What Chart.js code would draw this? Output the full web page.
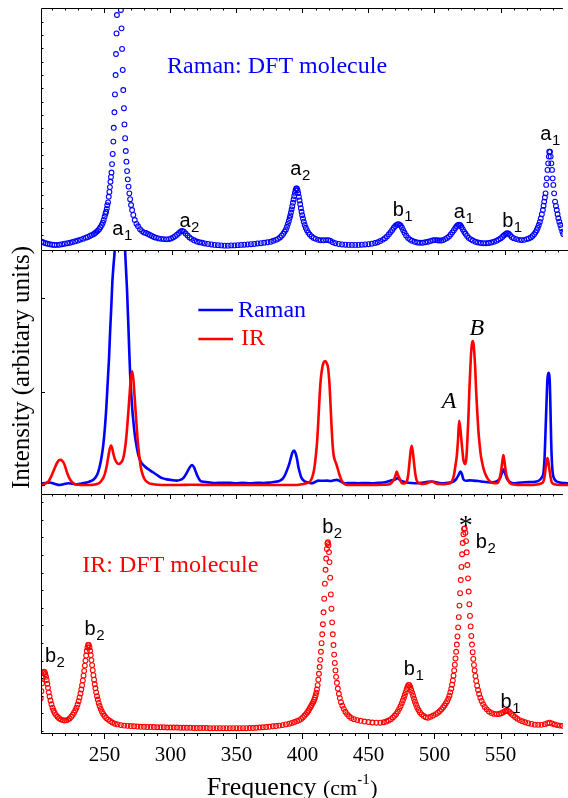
<!DOCTYPE html>
<html>
<head>
<meta charset="utf-8">
<title>Raman / IR spectra</title>
<script src="https://cdn.jsdelivr.net/npm/chart.js@4.4.1/dist/chart.umd.min.js"></script>
<style>
  html, body { margin: 0; padding: 0; background: #fff; }
  #wrap { position: relative; width: 568px; height: 798px; overflow: hidden; }
  #wrap canvas { position: absolute; left: 0; top: 0; }
</style>
</head>
<body>
<div id="wrap">
  <canvas id="topPanel" width="568" height="798"></canvas>
  <canvas id="midPanel" width="568" height="798"></canvas>
  <canvas id="botPanel" width="568" height="798"></canvas>
</div>
<script>
// ---- data: [frequency (cm-1), intensity (0..100 of panel height)] ----
const X_MIN = 202.0, X_MAX = 597.25;
const xTickLabels = [250, 300, 350, 400, 450, 500, 550];

// top panel: Raman, DFT molecule (open circles)
const ramanDft = [
  [202.5,3.4],[204,3.1],[205.5,2.8],[207,2.6],[208.7,2.4],[210.5,2.2],[212.2,2.1],[214,2.1],[216,2.2],[218,2.4],
  [220,2.6],[222,2.8],[224,3.0],[226,3.3],[228,3.6],[230,3.9],[232,4.3],[234,4.7],[236,5.1],[237.5,5.4],
  [239,5.8],[240.5,6.2],[242,6.6],[243,7.0],[244,7.5],[245,8.0],[246,8.6],[247,9.4],[248,10.3],[248.8,11.3],
  [249.5,12.4],[250.2,13.8],[250.8,15.0],[251.3,15.8],[251.8,17.0],[252.2,18.5],[252.8,19.7],[253.3,22.0],[253.8,24.0],[254.2,26.0],
  [254.6,28.2],[255.0,30.2],[255.4,32.0],[255.8,35.5],[256.3,39.7],[256.8,44.8],[257.1,50.5],[257.6,56.9],[258.0,64.3],[258.5,72.3],
  [258.8,81.0],[259.2,89.5],[259.5,97.1],
  [262.5,99.2],[263.0,91.6],[263.4,83.1],[263.9,74.4],[264.3,66.1],[264.8,58.6],[265.2,51.9],[265.7,46.2],[266.2,40.9],[266.7,36.5],
  [267.2,32.6],[267.7,29.2],[268.3,26.2],[268.9,23.4],[269.5,21.0],[270.2,18.6],[271.0,16.5],[271.9,14.5],[273.0,12.4],[274.3,10.8],
  [275.5,9.8],[277,8.6],[278.5,7.8],[280,7.2],[281.5,7.0],[283,6.6],[284.5,6.2],[286,5.8],[287.5,5.4],[289,5.1],
  [291,4.8],[293,4.6],[295,4.5],[297,4.4],[299,4.5],[300.5,4.8],[302,5.2],[303.5,5.7],[305,6.3],[306.5,7.0],
  [307.8,7.7],[309,7.9],[310.2,7.6],[311.5,6.8],[313,6.0],[314.5,5.2],[316,4.6],[318,4.0],[320,3.5],[322,3.2],
  [324,3.0],[326,2.7],[328.5,2.5],[331,2.3],[333.5,2.1],[336,2.0],[338.5,1.9],[341,1.8],[343.5,1.8],[346,1.9],
  [348.5,1.9],[351,2.0],[353.5,2.1],[356,2.2],[358.5,2.3],[361,2.4],[363.5,2.5],[366,2.7],[368.5,2.8],[371,3.0],
  [373.5,3.2],[376,3.4],[378,3.8],[380,4.2],[381.5,4.6],[383,5.2],[384.3,5.9],[385.5,6.7],[386.5,7.6],[387.5,8.5],
  [388.3,9.6],[389,10.8],[389.7,12.0],[390.3,13.2],[390.8,14.3],[391.3,15.5],[391.8,16.8],[392.3,18.1],[392.8,19.5],[393.3,20.9],
  [393.8,22.3],[394.3,23.6],[394.8,24.7],[395.3,25.4],[395.8,25.4],[396.3,24.7],[396.8,23.5],[397.3,22.0],[397.8,20.5],[398.3,18.9],
  [398.8,17.3],[399.3,15.8],[399.8,14.4],[400.4,13.0],[401.0,11.7],[401.7,10.4],[402.5,9.2],[403.4,8.2],[404.4,7.2],[405.5,6.4],
  [407,5.6],[408.5,5.0],[410,4.6],[412,4.2],[414,4.0],[416,4.0],[418,4.1],[419.5,4.1],[421,3.8],[423,3.2],
  [425,2.8],[427.5,2.5],[430,2.3],[432.5,2.2],[435,2.1],[437.5,2.1],[440,2.1],[442.5,2.1],[445,2.2],[447.5,2.3],
  [450,2.4],[452.5,2.6],[455,2.9],[457,3.2],[459,3.7],[461,4.3],[462.5,4.9],[464,5.6],[465.5,6.5],[466.8,7.4],
  [468,8.3],[469.2,9.2],[470.3,9.9],[471.3,10.4],[472.3,10.7],[473.3,10.6],[474.3,10.1],[475.3,9.3],[476.3,8.2],[477.3,7.1],
  [478.5,6.0],[480,5.0],[481.5,4.3],[483,3.8],[485,3.4],[487,3.1],[489,3.0],[491,3.0],[493,3.2],[495,3.4],
  [497,3.7],[499,4.0],[500.5,4.1],[502,4.0],[503.5,3.9],[505,3.9],[506.5,4.1],[508,4.5],[509.5,5.0],[511,5.6],
  [512.3,6.4],[513.5,7.3],[514.7,8.2],[515.8,9.1],[516.8,9.8],[517.8,10.3],[518.7,10.5],[519.6,10.2],[520.5,9.5],[521.5,8.5],
  [522.5,7.5],[523.5,6.7],[524.7,5.8],[526,5.0],[527.5,4.4],[529,3.9],[531,3.4],[533,3.1],[535,2.9],[537,2.8],
  [539,2.8],[541,2.9],[543,3.1],[545,3.4],[547,3.8],[548.5,4.3],[550,4.8],[551.3,5.4],[552.5,6.0],[553.7,6.5],
  [554.8,6.9],[556,6.8],[557.2,6.2],[558.5,5.4],[560,4.9],[562,4.5],[564,4.2],[566,4.1],[568,4.2],[570,4.5],
  [571.5,4.8],[573,5.2],[574.3,5.8],[575.5,6.5],[576.5,7.3],[577.4,8.2],[578.2,9.2],[579,10.3],[579.8,11.6],[580.5,13.0],
  [581.3,14.8],[582.1,16.5],[582.6,18.3],[583.1,20.0],[583.6,21.7],[584.1,23.4],[584.6,26.9],[585.1,29.6],[585.6,33.1],[586.1,35.8],
  [586.6,38.6],[586.9,40.6],[587.5,40.6],[588.0,38.6],[588.5,35.8],[589.0,33.1],[589.5,29.6],[590.0,26.9],[590.6,23.4],[591.3,20.0],
  [592.0,18.2],[592.6,16.5],[593.2,14.8],[593.8,13.1],[594.5,11.7],[595.3,10.3],[596.0,9.0],[596.8,7.6],[597.5,6.6]
];

// middle panel: measured Raman (blue line)
const ramanExp = [
  [202.4,4.3],[205,4.5],[208.7,4.7],[212,4.2],[216.2,3.7],[219,4.0],[222.5,4.4],[225.5,4.2],[228.8,4.0],[232.5,4.3],
  [236.3,4.7],[239,5.2],[241.2,5.8],[243.2,7.0],[245,9.2],[246.3,12.0],[247.5,15.4],[248.8,20.5],[250,27.7],[251,35.5],
  [252,45.6],[253,55.5],[253.8,66.1],[254.7,76.5],[255.5,86.7],[256.5,94.5],[257.3,100.4],[258.5,125],[260.5,175],[262.5,150],
  [264,115],[265,100.4],[266.5,84],[267.8,64.7],[268.8,49.7],[270.3,35.9],[271.5,28.5],[272.5,23.6],[273.8,19.3],[275,16],
  [276.2,14.0],[277.5,12.6],[279.5,11.5],[281.3,10.6],[284,9.6],[286.3,8.8],[289,7.8],[291.3,6.9],[293.5,6.4],[296.3,6.0],
  [300,5.7],[303.8,5.5],[306.5,5.8],[308.7,6.5],[310.8,8.2],[312.5,9.9],[314,11.3],[315.3,11.9],[316.7,11.0],[318,9.2],
  [319.5,7.2],[321.3,5.5],[324,5.0],[328.8,4.7],[333,4.5],[338,4.6],[343.8,4.6],[348,4.4],[353,4.6],[358.8,4.4],
  [364,4.6],[369,4.5],[373.8,4.7],[378,5.0],[381.3,5.5],[383.3,6.3],[385,7.8],[386.8,10.2],[388.3,12.6],[389.5,15.0],
  [390.5,16.9],[391.8,17.8],[393,16.6],[394.2,13.8],[395,11.2],[396,9.0],[397,7.1],[398.5,5.8],[400,5.1],[402.5,4.7],
  [405,4.4],[407.5,4.9],[410,5.5],[413,5.4],[416.3,5.5],[419,5.3],[421.5,5.6],[423.8,5.8],[426.5,5.2],[430,4.4],
  [435,4.5],[440,4.4],[445,4.5],[450,4.4],[455,4.6],[458.8,4.7],[462,5.1],[465,5.6],[467.5,5.9],[469.5,6.5],
  [471.5,5.6],[473.5,5.1],[476.3,4.7],[480,4.5],[483.8,4.4],[487,4.6],[491,4.9],[495.1,5.1],[499,4.7],[503.8,4.4],
  [507.5,4.6],[511.3,5.1],[513.5,6.2],[515.2,7.8],[516.5,9.2],[517.8,8.0],[518.8,6.0],[521,5.4],[523.5,5.6],[526.3,5.5],
  [530,5.3],[534,5.0],[538.8,4.7],[542.5,4.9],[545,5.6],[546.3,6.5],[547.7,8.6],[548.8,10.1],[550,8.6],[551.3,6.5],
  [553,5.2],[556.3,4.4],[560,4.6],[565,4.8],[570,4.9],[573.8,5.1],[576.5,6.0],[578,7.2],[578.8,8.5],[579.7,15],
  [580.6,29.1],[581.3,40],[581.8,46.9],[582.6,49.7],[583.6,45.6],[584.1,35],[584.6,22.2],[585.2,13],[585.8,8.5],[587,6.2],
  [588.8,5.1],[592,4.6],[595,4.5],[597.3,4.4]
];

// middle panel: measured IR (red line)
const irExp = [
  [202.4,3.5],[204,4.0],[207.5,5.1],[209.5,7.0],[211.2,9.2],[212.8,11.3],[214.2,12.9],[215.5,13.8],[216.8,14.0],[218,13.5],
  [219.2,12.6],[220.5,10.6],[221.7,8.5],[223,6.8],[224.3,5.5],[226,4.5],[227.5,4.0],[230,3.8],[234,3.7],[238.7,3.7],
  [242.5,3.9],[244.5,4.2],[246.2,4.7],[248,6.0],[249.2,7.2],[250,8.5],[251.3,11.5],[252.5,15.4],[253.5,18.3],[254.5,19.9],
  [255.4,18.8],[256.2,16.7],[257.3,14.5],[258.3,13.3],[259.4,12.5],[260.5,12.3],[261.8,12.8],[263.3,14.0],[264.5,16.8],[265.8,22.2],
  [266.8,28.5],[267.8,35.9],[268.6,42],[269.3,46.9],[270.3,50.3],[271.3,46.9],[272,41.5],[272.7,35.9],[273.6,28.8],[274.5,22.2],
  [275.6,16.2],[276.8,11.2],[278.3,7.8],[280,5.8],[282.5,4.6],[286.3,4.0],[290,3.8],[295,3.7],[305,3.7],[315,3.8],
  [330,3.7],[343.8,3.7],[360,3.7],[375,3.7],[393.8,3.7],[398,4.0],[401,4.4],[403.8,5.1],[405.5,7.0],[406.8,9.9],
  [407.8,14.0],[408.8,19.5],[409.6,26],[410.3,33.2],[411,40.5],[411.8,46.9],[412.6,50.5],[413.5,53.1],[414.5,54.3],[415.5,54.4],
  [416.4,53.5],[417.3,51.7],[418,47.8],[418.6,42.8],[419.2,36],[419.8,29.1],[420.5,22.0],[421.3,16.7],[422.3,14.0],[423.3,12.6],
  [424.4,10.6],[425.5,8.5],[426.8,6.4],[428.3,4.7],[430,4.0],[432.5,3.7],[440,3.7],[450,3.7],[458,3.8],[462,3.9],
  [463.8,4.1],[465.5,5.0],[466.8,6.0],[468,7.8],[468.8,9.2],[469.6,8.0],[470.8,6.5],[472.6,4.4],[474.5,4.3],[476.3,5.1],
  [477.3,7.5],[478.3,12.6],[479.2,17.5],[480,19.8],[480.8,17.5],[481.8,12.6],[482.8,8.0],[483.8,5.5],[486,4.4],[488.8,4.1],
  [491.5,4.4],[493.5,4.9],[495.1,5.1],[497,4.7],[499,4.2],[501.3,4.1],[504,4.0],[506.5,4.2],[508.8,4.4],[510.5,5.5],
  [511.8,8.0],[512.8,11.5],[513.8,15.4],[514.8,22.5],[515.6,30.0],[516.5,26.8],[517.3,22.2],[518.1,17.5],[518.8,14.0],[520,12.3],
  [521,14.5],[521.8,22.2],[522.6,32.0],[523.3,42.8],[524,51.5],[524.6,57.9],[525.2,61.5],[525.8,62.7],[526.4,61.5],[527,57.9],
  [527.7,51.0],[528.3,42.8],[529.1,34.5],[530,26.3],[531,20.0],[532,15.4],[533.5,11.3],[535,8.5],[537,6.3],[538.8,5.1],
  [541,4.5],[543.8,4.4],[545.5,5.5],[546.8,8.5],[547.9,12.8],[548.8,16.0],[549.8,12.5],[550.8,8.5],[552.3,5.8],[553.8,4.4],
  [557,3.9],[562,3.7],[568.8,3.7],[574,3.9],[577,4.3],[578.8,5.1],[579.8,7.5],[580.6,11.2],[581.3,13.5],[581.8,14.7],
  [582.5,13.2],[583.3,10.1],[584.2,7.0],[585.1,4.7],[587,4.0],[591.3,3.7],[597.5,3.7]
];

// bottom panel: IR, DFT molecule (open circles)
const irDft = [
  [201.8,14.5],[202.3,17.5],[202.8,20.8],[203.3,23.2],[203.8,25.0],[204.3,25.7],[204.8,25.4],[205.3,24.6],[205.8,23.5],[206.3,22.2],
  [206.8,20.6],[207.3,18.9],[207.9,17.0],[208.5,15.3],[209.2,13.6],[209.9,12.0],[210.7,10.6],[211.5,9.4],[212.4,8.4],[213.4,7.5],
  [214.5,6.8],[215.7,6.2],[217,5.7],[218.4,5.4],[219.8,5.2],[221.2,5.3],[222.5,5.6],[223.7,6.1],[224.9,6.8],[226,7.6],
  [227,8.5],[228,9.5],[228.9,10.6],[229.7,11.9],[230.5,13.3],[231.2,14.9],[231.9,16.5],[232.5,18.2],[233.1,20.0],[233.7,22.0],
  [234.2,24.0],[234.7,26.0],[235.2,28.2],[235.7,30.3],[236.2,32.4],[236.7,34.3],[237.2,35.8],[237.7,36.8],[238.2,36.8],[238.7,35.9],
  [239.2,34.4],[239.7,32.6],[240.2,30.5],[240.7,28.4],[241.2,26.3],[241.7,24.2],[242.2,22.3],[242.7,20.4],[243.2,18.7],[243.8,17.0],
  [244.4,15.4],[245.0,14.0],[245.7,12.6],[246.4,11.3],[247.2,10.1],[248.1,9.0],[249.1,8.0],[250.2,7.1],[251.4,6.3],[252.8,5.6],
  [254.3,5.0],[256,4.4],[258,3.9],[260,3.6],[262.5,3.3],[265,3.1],[267.5,3.0],[270,2.9],[272.5,2.8],[275,2.7],
  [277.5,2.6],[280,2.6],[282.5,2.5],[285,2.5],[287.5,2.5],[290,2.4],[292.5,2.4],[295,2.4],[297.5,2.3],[300,2.3],
  [302.5,2.3],[305,2.3],[307.5,2.2],[310,2.2],[312.5,2.2],[315,2.2],[317.5,2.1],[320,2.1],[322.5,2.1],[325,2.1],
  [327.5,2.1],[330,2.0],[332.5,2.0],[335,2.0],[337.5,2.0],[340,2.0],[342.5,2.0],[345,2.0],[347.5,2.0],[350,2.0],
  [352.5,2.0],[355,2.0],[357.5,2.0],[360,2.1],[362.5,2.1],[365,2.2],[367.5,2.3],[370,2.4],[372.5,2.5],[375,2.6],
  [377.5,2.8],[380,2.9],[382.5,3.1],[385,3.3],[387.5,3.6],[390,3.9],[392,4.2],[394,4.6],[396,5.0],[397.6,5.4],
  [399,5.9],[400.3,6.5],[401.5,7.2],[402.6,7.9],[403.6,8.6],[404.5,9.3],[405.3,10.1],[406.1,10.9],[406.9,11.6],[407.6,12.4],
  [408.3,13.1],[408.9,13.9],[409.5,14.8],[410.0,15.8],[410.5,16.9],[411.0,18.2],[411.5,20.0],[412.0,22.3],[412.5,24.8],[413.0,27.6],
  [413.5,30.6],[414.0,34.0],[414.5,37.6],[415.0,41.3],[415.5,45.5],[416.0,50.5],[416.5,56.2],[417.0,62.5],[417.5,68.3],[418.0,73.0],
  [418.5,77.0],[418.9,79.3],[419.3,79.8],[419.7,78.6],[420.1,75.7],[420.5,71.5],[421.0,65.0],[421.5,58.0],[422.0,52.0],[422.5,46.3],
  [423.0,41.3],[423.5,36.8],[424.0,32.8],[424.5,29.3],[425.0,26.2],[425.5,23.5],[426.1,21.0],[426.8,18.6],[427.6,16.4],[428.3,14.6],
  [429.2,12.9],[430.2,11.4],[431.3,10.1],[432.5,8.9],[433.8,7.9],[435.3,7.0],[437,6.3],[439,5.8],[441.5,5.4],[444,5.1],
  [447,4.8],[450,4.6],[453,4.4],[456,4.3],[459,4.3],[461.5,4.5],[463.5,4.8],[465.3,5.2],[467,5.8],[468.5,6.5],
  [469.8,7.2],[471,8.0],[472.2,9.0],[473.3,10.1],[474.3,11.2],[475.2,12.4],[476,13.6],[476.8,14.8],[477.5,15.9],[478.2,17.1],
  [478.9,18.3],[479.6,19.4],[480.3,20.1],[481,20.0],[481.7,19.2],[482.4,18.0],[483.1,16.8],[483.8,15.6],[484.5,14.3],[485.2,13.1],
  [486,11.9],[486.9,10.7],[487.9,9.6],[489,8.6],[490.3,7.8],[491.8,7.1],[493.4,6.6],[495,6.4],[497,6.8],[499,7.3],
  [501,7.9],[502.6,8.5],[504,9.2],[505.3,9.9],[506.5,10.7],[507.6,11.5],[508.6,12.4],[509.6,13.3],[510.5,14.4],[511.3,15.6],
  [512.0,17.0],[512.7,18.5],[513.3,20.2],[513.9,22.0],[514.4,24.0],[514.9,26.2],[515.4,28.6],[515.9,31.2],[516.4,34.0],[516.9,37.0],
  [517.4,40.4],[517.9,44.2],[518.4,48.5],[518.9,53.3],[519.4,58.5],[519.9,64.0],[520.4,69.5],[520.9,74.8],[521.4,79.5],[521.9,83.2],
  [522.4,85.4],[522.9,85.6],[523.4,83.8],[523.9,80.3],[524.4,75.6],[524.9,70.3],[525.4,64.7],[525.9,59.2],[526.4,53.9],[526.9,49.0],
  [527.4,44.6],[527.9,40.6],[528.4,37.0],[528.9,33.8],[529.4,31.0],[529.9,28.5],[530.4,26.2],[531.0,23.9],[531.6,21.8],[532.3,19.8],
  [533.0,18.0],[533.8,16.3],[534.7,14.8],[535.7,13.4],[536.8,12.1],[538.1,10.9],[539.6,9.9],[541.3,9.0],[543.2,8.4],[545.2,8.0],
  [547.2,7.9],[549,8.0],[550.6,8.3],[552,8.7],[553.3,9.1],[554.5,9.3],[555.7,9.2],[556.9,8.8],[558.1,8.1],[559.5,7.4],
  [561,6.7],[562.7,6.0],[564.5,5.4],[566.5,4.9],[568.7,4.5],[571,4.1],[573.5,3.8],[576,3.5],[578.5,3.4],[581,3.4],
  [583.5,3.7],[585.5,4.1],[587.2,4.3],[589,4.0],[591,3.6],[593,3.3],[595,3.1],[597,3.0]
];

const BLUE = '#0000ff';
const RED = '#ff0000';
const SERIF = '"Liberation Serif", "Times New Roman", serif';
const SANS = '"Liberation Sans", Arial, sans-serif';
const MODE_FONT = '20px ' + SANS;
const SUB_FONT = '15px ' + SANS;

const toXY = pairs => pairs.map(p => ({ x: p[0], y: p[1] }));

// ==================== DECORATION PLUGIN ====================
// frame, inward tick marks, annotations
function panelDecor(cfg) {
    return {
        id: 'panelDecor',
        afterDraw(chart) {
            const { ctx, chartArea: a, scales: { x, y } } = chart;
            ctx.save();
            ctx.strokeStyle = '#000';
            ctx.lineWidth = 1;
            ctx.beginPath();
            ctx.moveTo(a.left + 0.5, a.bottom);
            ctx.lineTo(a.left + 0.5, a.top + 0.5);
            ctx.lineTo(a.right, a.top + 0.5);
            if (cfg.bottomAxis) {
                ctx.moveTo(a.left, a.bottom + 0.5);
                ctx.lineTo(a.right, a.bottom + 0.5);
            }
            for (let f = 210; f <= 590; f += 10) {
                const px = Math.round(x.getPixelForValue(f)) + 0.5;
                const major = f % 50 === 0;
                ctx.moveTo(px, a.top);
                ctx.lineTo(px, a.top + (major ? 5 : 2.5));
                if (cfg.bottomAxis) {
                    ctx.moveTo(px, a.bottom);
                    ctx.lineTo(px, a.bottom + (major ? 6 : 3));
                }
            }
            for (let v = cfg.yTickStart; v < 99; v += cfg.yTickStep) {
                const py = Math.round(y.getPixelForValue(v)) + 0.5;
                ctx.moveTo(a.left, py);
                ctx.lineTo(a.left + cfg.yTickLen, py);
            }
            ctx.stroke();

            // legend lines
            (cfg.legend || []).forEach(l => {
                const py = y.getPixelForValue(l.v);
                ctx.strokeStyle = l.color;
                ctx.lineWidth = 2.6;
                ctx.beginPath();
                ctx.moveTo(x.getPixelForValue(l.f1), py);
                ctx.lineTo(x.getPixelForValue(l.f2), py);
                ctx.stroke();
            });

            // text notes
            ctx.textAlign = 'left';
            ctx.textBaseline = 'alphabetic';
            (cfg.notes || []).forEach(n => {
                const px = x.getPixelForValue(n.f);
                const py = y.getPixelForValue(n.v);
                ctx.font = n.font || MODE_FONT;
                ctx.fillStyle = n.color || '#000';
                ctx.fillText(n.t, px, py);
                if (n.sub) {
                    const w = ctx.measureText(n.t).width;
                    ctx.font = SUB_FONT;
                    ctx.fillText(n.sub, px + w + 0.5, py + 5);
                }
            });

            if (cfg.extra) cfg.extra(ctx, chart);
            ctx.restore();
        }
    };
}

function makePanel(id, padTop, padBottom, datasets, decor, showX) {
    return new Chart(document.getElementById(id), {
        type: 'scatter',
        data: { datasets: datasets },
        options: {
            responsive: false,
            animation: false,
            events: [],
            layout: { padding: { top: padTop, bottom: padBottom, left: 41, right: 0 } },
            plugins: { legend: { display: false }, tooltip: { enabled: false } },
            scales: {
                x: {
                    type: 'linear',
                    min: X_MIN,
                    max: X_MAX,
                    display: showX,
                    position: 'bottom',
                    grid: { display: false, drawTicks: false },
                    border: { display: false },
                    ticks: {
                        color: '#000',
                        font: { family: SERIF, size: 21 },
                        padding: 10,
                        maxRotation: 0,
                        autoSkip: false
                    },
                    afterBuildTicks: s => { s.ticks = xTickLabels.map(v => ({ value: v })); },
                    afterFit: s => { if (showX) s.height = 65; }
                },
                y: { min: 0, max: 100, display: false }
            }
        },
        plugins: [panelDecor(decor)]
    });
}

function circles(data, color) {
    return {
        data: toXY(data),
        showLine: false,
        pointStyle: 'circle',
        pointRadius: 2.4,
        pointBorderWidth: 1.1,
        pointBorderColor: color,
        pointBackgroundColor: 'rgba(0,0,0,0)'
    };
}

function trace(data, color) {
    return {
        data: toXY(data),
        showLine: true,
        borderColor: color,
        borderWidth: 2.6,
        pointRadius: 0,
        cubicInterpolationMode: 'monotone'
    };
}

// ==================== TOP: RAMAN DFT ====================
makePanel('topPanel', 8, 548, [circles(ramanDft, BLUE)], {
    yTickStart: 6.2, yTickStep: 5.51, yTickLen: 2.5,
    notes: [
        { t: 'Raman: DFT molecule', f: 297.5, v: 73, font: '24px ' + SERIF, color: BLUE },
        { t: 'a', sub: '1', f: 256, v: 6.2 },
        { t: 'a', sub: '2', f: 306.8, v: 9.5 },
        { t: 'a', sub: '2', f: 390.8, v: 31 },
        { t: 'b', sub: '1', f: 468.3, v: 14 },
        { t: 'a', sub: '1', f: 514.6, v: 13.1 },
        { t: 'b', sub: '1', f: 551.3, v: 9.6 },
        { t: 'a', sub: '1', f: 580.1, v: 45.5 }
    ]
}, false);

// ==================== MIDDLE: MEASURED RAMAN + IR ====================
makePanel('midPanel', 250, 304, [trace(irExp, RED), trace(ramanExp, BLUE)], {
    yTickStart: 3.7, yTickStep: 38.3, yTickLen: 4,
    legend: [
        { f1: 320, f2: 346, v: 75.4, color: BLUE },
        { f1: 320, f2: 346, v: 63.5, color: RED }
    ],
    notes: [
        { t: 'Raman', f: 349.8, v: 72.5, font: '24px ' + SERIF, color: BLUE },
        { t: 'IR', f: 352, v: 61, font: '24px ' + SERIF, color: RED },
        { t: 'A', f: 502.6, v: 35.1, font: 'italic 24px ' + SERIF },
        { t: 'B', f: 523.3, v: 65.2, font: 'italic 24px ' + SERIF }
    ],
    extra: (ctx) => {
        ctx.save();
        ctx.translate(28.5, 367.5);
        ctx.rotate(-Math.PI / 2);
        ctx.textAlign = 'center';
        ctx.textBaseline = 'alphabetic';
        ctx.fillStyle = '#000';
        ctx.font = '25px ' + SERIF;
        ctx.fillText('Intensity (arbitary units)', 0, 0);
        ctx.restore();
    }
}, false);

// ==================== BOTTOM: IR DFT ====================
makePanel('botPanel', 494, 0, [circles(irDft, RED)], {
    bottomAxis: true,
    yTickStart: 0.85, yTickStep: 7.36, yTickLen: 2.5,
    notes: [
        { t: 'IR: DFT molecule', f: 233.3, v: 67.4, font: '24px ' + SERIF, color: RED },
        { t: 'b', sub: '2', f: 205, v: 29.7 },
        { t: 'b', sub: '2', f: 235, v: 41 },
        { t: 'b', sub: '2', f: 415, v: 83.7 },
        { t: 'b', sub: '1', f: 476.8, v: 24.3 },
        { t: '*', f: 518.3, v: 83.4, font: '28px ' + SERIF },
        { t: 'b', sub: '2', f: 531.3, v: 77.4 },
        { t: 'b', sub: '1', f: 550, v: 10.5 }
    ],
    extra: (ctx) => {
        // x-axis title: Frequency (cm-1)
        ctx.fillStyle = '#000';
        ctx.textBaseline = 'alphabetic';
        ctx.textAlign = 'left';
        let x = 206.7;
        const base = 795;
        ctx.font = '26px ' + SERIF;
        ctx.fillText('Frequency', x, base);
        x += ctx.measureText('Frequency ').width;
        ctx.font = '22px ' + SERIF;
        ctx.fillText('(cm', x, base);
        x += ctx.measureText('(cm').width;
        ctx.font = '15px ' + SERIF;
        ctx.fillText('-1', x, base - 11);
        x += ctx.measureText('-1').width + 0.5;
        ctx.font = '22px ' + SERIF;
        ctx.fillText(')', x, base);
    }
}, true);
</script>
</body>
</html>
